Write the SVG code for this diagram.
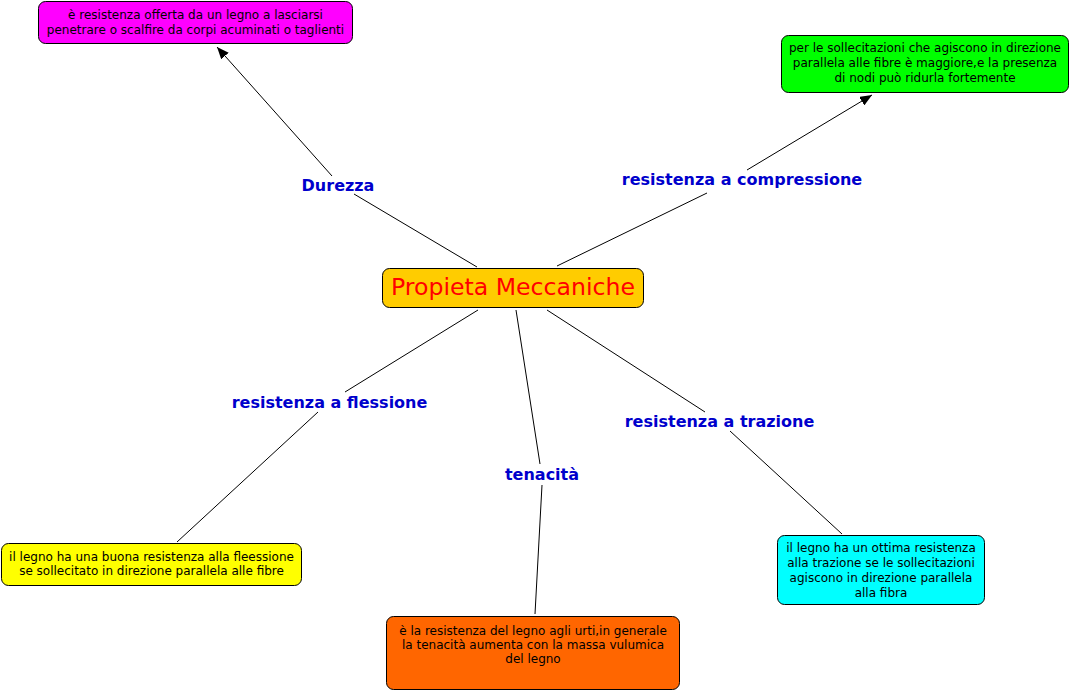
<svg xmlns="http://www.w3.org/2000/svg" width="1071" height="691" viewBox="0 0 1071 691">
<style>
.box{stroke:#000;stroke-width:1}
.t{font-family:"DejaVu Sans",Verdana,sans-serif;font-size:12px;fill:#000;text-anchor:middle}
.lbl{font-family:"DejaVu Sans",Verdana,sans-serif;font-size:16px;font-weight:bold;fill:#0000CC;text-anchor:middle}
.c{stroke:#000;stroke-width:1;fill:none}
</style>
<defs>
<marker id="arr" markerWidth="12" markerHeight="10" refX="12" refY="5" orient="auto" markerUnits="userSpaceOnUse">
<path d="M0,0 L12,5 L0,10 Z" fill="#000"/>
</marker>
</defs>
<rect width="1071" height="691" fill="#fff"/>
<g id="connectors">
<line class="c" x1="477" y1="267" x2="354" y2="194"/>
<line class="c" x1="332" y1="176" x2="217" y2="47" marker-end="url(#arr)"/>
<line class="c" x1="557" y1="266" x2="707" y2="193"/>
<line class="c" x1="747" y1="170" x2="872" y2="95" marker-end="url(#arr)"/>
<line class="c" x1="478" y1="310" x2="345" y2="392"/>
<line class="c" x1="318" y1="412" x2="177" y2="542"/>
<line class="c" x1="516" y1="310" x2="540" y2="464"/>
<line class="c" x1="542" y1="485" x2="535" y2="614"/>
<line class="c" x1="547" y1="310" x2="705" y2="412"/>
<line class="c" x1="730" y1="431" x2="842" y2="534"/>
<text class="lbl" x="338" y="191">Durezza</text>
<text class="lbl" x="742" y="185">resistenza a compressione</text>
<text class="lbl" x="329.5" y="408">resistenza a flessione</text>
<text class="lbl" x="542" y="480">tenacità</text>
<text class="lbl" x="719.5" y="427">resistenza a trazione</text>
</g>
<g id="n-center">
<rect class="box" x="382.5" y="268.5" width="261" height="39" rx="7" fill="#FFCC00"/>
<text x="513" y="294.5" style="font-family:'DejaVu Sans',Verdana,sans-serif;font-size:23.6px;fill:#FF0000;text-anchor:middle">Propieta Meccaniche</text>
</g>
<g id="n-durezza">
<rect class="box" x="38.5" y="1.5" width="314" height="42" rx="7" fill="#FF00FF"/>
<text class="t" x="195.5" y="19">è resistenza offerta da un legno a lasciarsi</text>
<text class="t" x="195.5" y="34">penetrare o scalfire da corpi acuminati o taglienti</text>
</g>
<g id="n-compressione">
<rect class="box" x="781.5" y="35.5" width="287" height="57" rx="7" fill="#00FF00"/>
<text class="t" x="925" y="52">per le sollecitazioni che agiscono in direzione</text>
<text class="t" x="925" y="67">parallela alle fibre è maggiore,e la presenza</text>
<text class="t" x="925" y="82">di nodi può ridurla fortemente</text>
</g>
<g id="n-flessione">
<rect class="box" x="1.5" y="543.5" width="300" height="42" rx="7" fill="#FFFF00"/>
<text class="t" x="151.5" y="561">il legno ha una buona resistenza alla fleessione</text>
<text class="t" x="151.5" y="575">se sollecitato in direzione parallela alle fibre</text>
</g>
<g id="n-tenacita">
<rect class="box" x="386.5" y="616.5" width="293" height="73" rx="7" fill="#FF6600"/>
<text class="t" x="533" y="635">è la resistenza del legno agli urti,in generale</text>
<text class="t" x="533" y="649">la tenacità aumenta con la massa vulumica</text>
<text class="t" x="533" y="663">del legno</text>
</g>
<g id="n-trazione">
<rect class="box" x="777.5" y="535.5" width="207" height="69" rx="7" fill="#00FFFF"/>
<text class="t" x="881" y="552">il legno ha un ottima resistenza</text>
<text class="t" x="881" y="567">alla trazione se le sollecitazioni</text>
<text class="t" x="881" y="582">agiscono in direzione parallela</text>
<text class="t" x="881" y="597">alla fibra</text>
</g>
</svg>
